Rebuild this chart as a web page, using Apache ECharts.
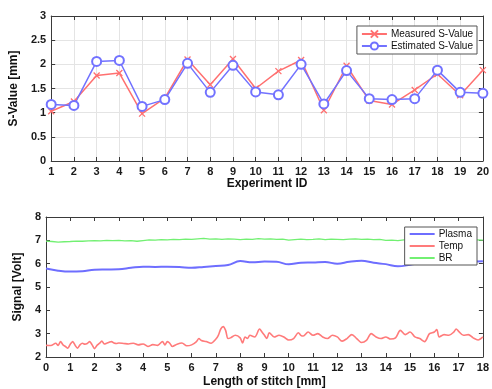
<!DOCTYPE html>
<html><head><meta charset="utf-8">
<script src="https://cdn.jsdelivr.net/npm/echarts@6/dist/echarts.min.js"></script>
<style>html,body{margin:0;padding:0;background:#fff}#c{width:492px;height:389px}</style>
</head><body><div id="c"></div>
<script>
// ---- Top chart data ----
var experimentIds = [1,2,3,4,5,6,7,8,9,10,11,12,13,14,15,16,17,18,19,20];
var measuredS = [1.03,1.23,1.77,1.82,0.98,1.30,2.10,1.58,2.11,1.50,1.86,2.09,1.05,1.97,1.25,1.17,1.47,1.80,1.36,1.88];
var estimatedS = [1.17,1.15,2.06,2.08,1.13,1.27,2.02,1.42,1.98,1.43,1.37,2.00,1.18,1.87,1.29,1.27,1.29,1.88,1.42,1.40];

// ---- Bottom chart data ----
var plasmaX = [0,0.5,1,1.5,2,2.5,3,3.5,4,4.5,5,5.5,6,6.5,7,7.5,8,8.5,9,9.5,10,10.5,11,11.5,12,12.5,13,13.5,14,14.5,15,15.5,16,16.5,17,17.5,18];
var plasmaY = [5.79,5.70,5.66,5.68,5.74,5.75,5.76,5.82,5.87,5.86,5.87,5.86,5.82,5.86,5.90,5.94,6.11,6.06,6.09,6.08,5.97,6.04,6.05,6.07,6.00,6.08,6.12,6.04,5.98,5.89,5.95,6.04,6.08,6.10,6.08,6.08,6.10];

var tempX = [0,0.2,0.4,0.5,0.6,0.7,0.8,0.9,1.0,1.1,1.2,1.3,1.4,1.5,1.6,1.7,1.8,1.9,2.0,2.1,2.2,2.3,2.4,2.5,2.6,2.7,2.8,2.9,3.0,3.2,3.4,3.6,3.8,4.0,4.2,4.4,4.6,4.8,4.9,5.0,5.1,5.2,5.4,5.6,5.8,6.0,6.2,6.3,6.4,6.6,6.8,7.0,7.1,7.2,7.3,7.4,7.5,7.6,7.8,8.0,8.1,8.2,8.3,8.4,8.6,8.8,8.9,9.0,9.1,9.2,9.4,9.6,9.8,10.0,10.2,10.4,10.5,10.6,10.8,11.0,11.2,11.4,11.6,11.8,12.0,12.2,12.4,12.6,12.8,13.0,13.2,13.4,13.6,13.8,14.0,14.2,14.4,14.6,14.8,15.0,15.2,15.4,15.6,15.8,16.0,16.1,16.2,16.4,16.6,16.8,16.9,17.0,17.2,17.4,17.6,17.8,18.0];
var tempY = [2.50,2.49,2.59,2.50,2.66,2.52,2.45,2.38,2.55,2.66,2.50,2.38,2.52,2.59,2.55,2.58,2.66,2.52,2.36,2.50,2.58,2.68,2.56,2.59,2.63,2.66,2.60,2.58,2.60,2.58,2.56,2.59,2.52,2.56,2.45,2.53,2.50,2.66,2.52,2.66,2.59,2.45,2.55,2.60,2.48,2.52,2.66,2.79,2.71,2.66,2.59,2.77,2.93,3.20,3.30,3.14,2.79,2.82,2.93,2.82,2.60,2.86,2.79,2.93,2.86,3.20,3.07,2.93,2.79,3.04,2.86,2.93,2.86,2.73,2.79,3.04,2.93,2.90,3.07,2.93,3.00,2.86,2.79,2.93,2.86,2.68,2.79,2.96,2.79,2.62,2.71,3.00,2.86,2.79,2.86,2.77,2.82,3.14,2.96,3.07,2.86,2.79,2.66,3.00,3.07,3.18,2.86,2.96,2.93,3.07,3.20,3.10,2.93,2.96,2.82,2.73,2.86];

var brX = [0,0.25,0.5,0.75,1,1.25,1.5,1.75,2,2.25,2.5,2.75,3,3.25,3.5,3.75,4,4.25,4.5,4.75,5,5.25,5.5,5.75,6,6.25,6.5,6.75,7,7.25,7.5,7.75,8,8.25,8.5,8.75,9,9.25,9.5,9.75,10,10.25,10.5,10.75,11,11.25,11.5,11.75,12,12.25,12.5,12.75,13,13.25,13.5,13.75,14,14.25,14.5,14.75,15,15.25,15.5,15.75,16,16.25,16.5,16.75,17,17.25,17.5,17.75,18];
var brY = [6.97,6.95,6.92,6.94,6.95,6.97,6.96,6.98,6.99,6.98,7.00,6.99,7.00,6.98,6.99,6.96,6.99,7.02,7.01,7.03,7.02,7.04,7.03,7.05,7.04,7.06,7.08,7.05,7.06,7.04,7.06,7.05,7.03,7.05,7.04,7.07,7.05,7.06,7.04,7.05,7.01,7.03,7.05,7.03,7.04,7.06,7.03,7.05,7.04,7.03,7.05,7.06,7.04,7.05,7.03,7.04,7.00,7.01,6.99,7.02,7.04,7.03,7.05,7.04,7.06,7.05,7.04,7.06,7.05,7.04,7.03,7.02,7.01];

function pairs(xs, ys){ return xs.map(function(x,i){ return [x, ys[i]]; }); }

var FONT = 'Liberation Sans';
var axisCol = '#3a3a3a';
var labelStyle = {color:'#1a1a1a', fontSize:11, fontFamily:FONT, fontWeight:'bold'};
function mainX(gi, min, max, name, grid, nameGap){
  return {type:'value', gridIndex:gi, min:min, max:max, interval:1, position:'bottom',
    name:name, nameLocation:'middle', nameGap:nameGap,
    nameTextStyle:{color:'#111', fontSize:12, fontWeight:'bold', fontFamily:FONT},
    axisLine:{onZero:false, lineStyle:{color:axisCol, width:1}},
    axisTick:{inside:true, length:4, lineStyle:{color:axisCol}},
    axisLabel:Object.assign({margin:5}, labelStyle),
    splitLine:{show:grid, lineStyle:{color:'#e4e4e4'}}};
}
function mainY(gi, min, max, iv, name, grid, nameGap){
  return {type:'value', gridIndex:gi, min:min, max:max, interval:iv, position:'left',
    name:name, nameLocation:'middle', nameGap:nameGap,
    nameTextStyle:{color:'#111', fontSize:12, fontWeight:'bold', fontFamily:FONT},
    axisLine:{show:true, onZero:false, lineStyle:{color:axisCol, width:1}},
    axisTick:{show:true, inside:true, length:4, lineStyle:{color:axisCol}},
    axisLabel:Object.assign({margin:5}, labelStyle),
    splitLine:{show:grid, lineStyle:{color:'#e4e4e4'}}};
}
function boxX(gi, min, max){
  return {type:'value', gridIndex:gi, min:min, max:max, interval:1, position:'top',
    axisLine:{onZero:false, lineStyle:{color:axisCol}}, axisTick:{inside:true, length:4, lineStyle:{color:axisCol}},
    axisLabel:{show:false}, splitLine:{show:false}};
}
function boxY(gi, min, max, iv){
  return {type:'value', gridIndex:gi, min:min, max:max, interval:iv, position:'right',
    axisLine:{show:true, onZero:false, lineStyle:{color:axisCol}}, axisTick:{show:true, inside:true, length:4, lineStyle:{color:axisCol}},
    axisLabel:{show:false}, splitLine:{show:false}};
}

var red = '#ff7070', blue = '#7272ff';
var plasmaCol = '#6e6eff', tempCol = '#ff7b7b', brCol = '#72f072';
var chart = echarts.init(document.getElementById('c'), null, {renderer:'canvas'});
chart.setOption({
  animation:false,
  backgroundColor:'#fff',
  textStyle:{fontFamily:FONT},
  grid:[
    {left:46, right:5, top:16, bottom:228},
    {left:46, right:5, top:217, bottom:26}
  ],
  xAxis:[
    mainX(0, 1, 20, 'Experiment ID', true, 17),
    boxX(0, 1, 20),
    mainX(1, 0, 18, 'Length of stitch [mm]', false, 19),
    boxX(1, 0, 18)
  ],
  yAxis:[
    mainY(0, 0, 3, 0.5, 'S-Value [mm]', true, 21),
    boxY(0, 0, 3, 0.5),
    mainY(1, 2, 8, 1, 'Signal [Volt]', false, 13),
    boxY(1, 2, 8, 1)
  ],
  legend:[
    {data:['Measured S-Value','Estimated S-Value'], orient:'vertical', right:15, top:26,
     backgroundColor:'#fff', borderColor:'#555', borderWidth:1, padding:[3,4,3,4], itemGap:2,
     itemWidth:25, itemHeight:9, textStyle:{fontSize:10, color:'#111', fontFamily:FONT, padding:[0,0,0,-1]}},
    {data:[{name:'Plasma', icon:'rect'},{name:'Temp', icon:'rect'},{name:'BR', icon:'rect'}],
     orient:'vertical', right:15, top:227,
     backgroundColor:'#fff', borderColor:'#555', borderWidth:1, padding:[1,5,1,5], itemGap:0,
     itemWidth:25, itemHeight:2, textStyle:{fontSize:10, color:'#111', fontFamily:FONT, padding:[0,0,0,-1], lineHeight:12}}
  ],
  series:[
    {name:'Measured S-Value', type:'line', xAxisIndex:0, yAxisIndex:0,
     data:pairs(experimentIds, measuredS),
     symbol:'path://M0,0L10,10M0,10L10,0', symbolSize:6,
     lineStyle:{color:red, width:1.5}, itemStyle:{color:red, borderColor:red, borderWidth:1.3}},
    {name:'Estimated S-Value', type:'line', xAxisIndex:0, yAxisIndex:0,
     data:pairs(experimentIds, estimatedS),
     symbol:'emptyCircle', symbolSize:9,
     lineStyle:{color:blue, width:1.5}, itemStyle:{color:blue, borderColor:blue, borderWidth:1.5}},
    {name:'Plasma', type:'line', xAxisIndex:2, yAxisIndex:2, data:pairs(plasmaX, plasmaY),
     symbol:'none', smooth:0.4, lineStyle:{color:plasmaCol, width:2}, itemStyle:{color:plasmaCol}},
    {name:'Temp', type:'line', xAxisIndex:2, yAxisIndex:2, data:pairs(tempX, tempY),
     symbol:'none', smooth:0.3, lineStyle:{color:tempCol, width:1.6}, itemStyle:{color:tempCol}},
    {name:'BR', type:'line', xAxisIndex:2, yAxisIndex:2, data:pairs(brX, brY),
     symbol:'none', lineStyle:{color:brCol, width:1.3}, itemStyle:{color:brCol}}
  ]
});
</script></body></html>
